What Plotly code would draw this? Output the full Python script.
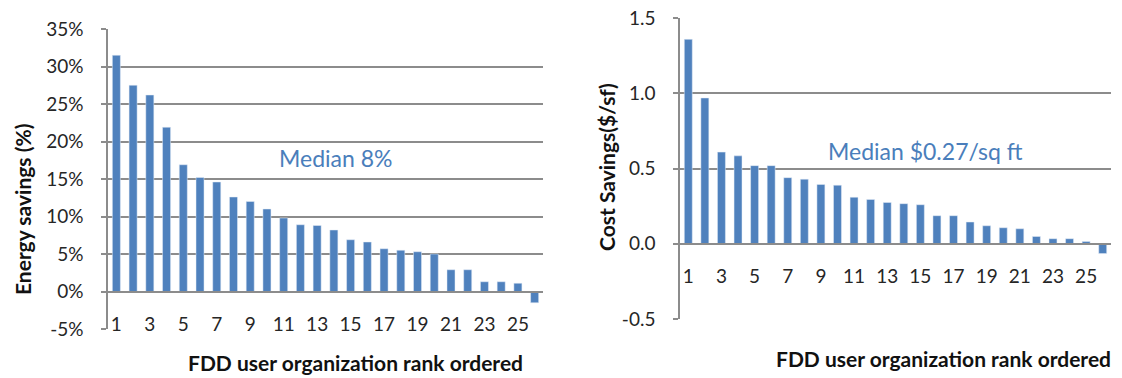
import plotly.graph_objects as go

# ---- data -------------------------------------------------------------
ranks = list(range(1, 27))

energy_savings_pct = [31.5, 27.5, 26.2, 21.9, 16.9, 15.2, 14.6, 12.6, 12.0, 11.0,
                      9.8, 8.9, 8.8, 8.2, 6.9, 6.6, 5.7, 5.5, 5.3, 5.0,
                      2.9, 2.9, 1.3, 1.3, 1.1, -1.5]

cost_savings_per_sf = [1.36, 0.97, 0.61, 0.585, 0.52, 0.52, 0.44, 0.43, 0.395, 0.39,
                       0.31, 0.295, 0.275, 0.267, 0.26, 0.187, 0.187, 0.145, 0.12, 0.107,
                       0.10, 0.049, 0.034, 0.034, 0.015, -0.065]

rank_tick_vals = list(range(1, 26, 2))
rank_tick_text = [str(v) for v in rank_tick_vals]
rank_boundaries = [r + 0.5 for r in ranks]

energy_tick_vals = [-5, 0, 5, 10, 15, 20, 25, 30, 35]
energy_tick_text = [f"{v}%" for v in energy_tick_vals]

cost_tick_vals = [-0.5, 0.0, 0.5, 1.0, 1.5]
cost_tick_text = ["-0.5", "0.0", "0.5", "1.0", "1.5"]

energy_median_label = "Median 8%"
cost_median_label = "Median $0.27/sq ft"
x_title = "FDD user organization rank ordered"
energy_y_title = "Energy savings (%)"
cost_y_title = "Cost Savings($/sf)"

# ---- styling ----------------------------------------------------------
W, H = 1122, 378
BAR = "#4f81bd"
TEXT_BLUE = "#4a7ebb"
GRID = "#8c8c8c"
FONT = "Lato"
TICK_FONT = dict(family=FONT, size=19, color="#262626")

left_x_dom = [108 / W, 543 / W]
left_y_dom = [49 / H, 349 / H]
right_x_dom = [680 / W, 1111 / W]
right_y_dom = [59 / H, 359.7 / H]

energy_range = [-5, 35]
cost_range = [-0.5, 1.5]
rank_range = [0.5, 26.5]


def zero_position(dom, rng):
    frac = (0 - rng[0]) / (rng[1] - rng[0])
    return dom[0] + frac * (dom[1] - dom[0])


fig = go.Figure()
fig.add_trace(go.Bar(x=ranks, y=energy_savings_pct, marker_color=BAR,
                     xaxis="x", yaxis="y"))
fig.add_trace(go.Bar(x=ranks, y=cost_savings_per_sf, marker_color=BAR,
                     xaxis="x2", yaxis="y2"))

y_common = dict(ticks="outside", ticklen=5, tickwidth=1.5, tickcolor=GRID,
                showline=True, linecolor=GRID, linewidth=1.5,
                showgrid=True, gridcolor=GRID, gridwidth=1.5, automargin=False,
                zeroline=False, tickfont=TICK_FONT, ticklabelstandoff=14)

label_axis = dict(range=rank_range, anchor="free", showline=True, linecolor=GRID,
                  linewidth=1.5, ticks="", showgrid=False, zeroline=False,
                  automargin=False, tickfont=TICK_FONT, ticklabelstandoff=16)

tick_axis = dict(range=rank_range, anchor="free", showline=False, showgrid=False,
                 zeroline=False, showticklabels=False, tickvals=rank_boundaries,
                 automargin=False, ticks="outside", ticklen=5, tickwidth=1.5,
                 tickcolor=GRID)

left_zero = zero_position(left_y_dom, energy_range)
right_zero = zero_position(right_y_dom, cost_range)

fig.update_layout(
    width=W, height=H,
    margin=dict(l=0, r=0, t=0, b=0, pad=0),
    paper_bgcolor="white", plot_bgcolor="white",
    showlegend=False, bargap=0.52,
    font=dict(family=FONT),
    xaxis=dict(domain=left_x_dom, position=left_zero,
               tickvals=rank_tick_vals, ticktext=rank_tick_text, **label_axis),
    yaxis=dict(domain=left_y_dom, range=energy_range, anchor="x",
               tickvals=energy_tick_vals, ticktext=energy_tick_text, **y_common),
    xaxis2=dict(domain=right_x_dom, position=right_zero,
                tickvals=rank_tick_vals, ticktext=rank_tick_text, **label_axis),
    yaxis2=dict(domain=right_y_dom, range=cost_range, anchor="x2",
                tickvals=cost_tick_vals, ticktext=cost_tick_text, **y_common),
    xaxis3=dict(domain=left_x_dom, overlaying="x", position=left_zero, **tick_axis),
    xaxis4=dict(domain=right_x_dom, overlaying="x2", position=right_zero, **tick_axis),
)

title_font = dict(family=FONT, size=21, color="#111111")
median_font = dict(family=FONT, size=23, color=TEXT_BLUE)


def label(text, x, y, font, angle=0):
    fig.add_annotation(text=text, textangle=angle, xref="paper", yref="paper",
                       x=x / W, y=1 - y / H, xanchor="center", yanchor="middle",
                       showarrow=False, font=font)


label(f"<b>{energy_y_title}</b>", 22, 210, title_font, -90)
label(f"<b>{cost_y_title}</b>", 606, 167, title_font, -90)
label(f"<b>{x_title}</b>", 355, 362, title_font)
label(f"<b>{x_title}</b>", 943, 358, title_font)
label(energy_median_label, 335, 158, median_font)
label(cost_median_label, 925, 151, median_font)

fig.write_html("out.html")
